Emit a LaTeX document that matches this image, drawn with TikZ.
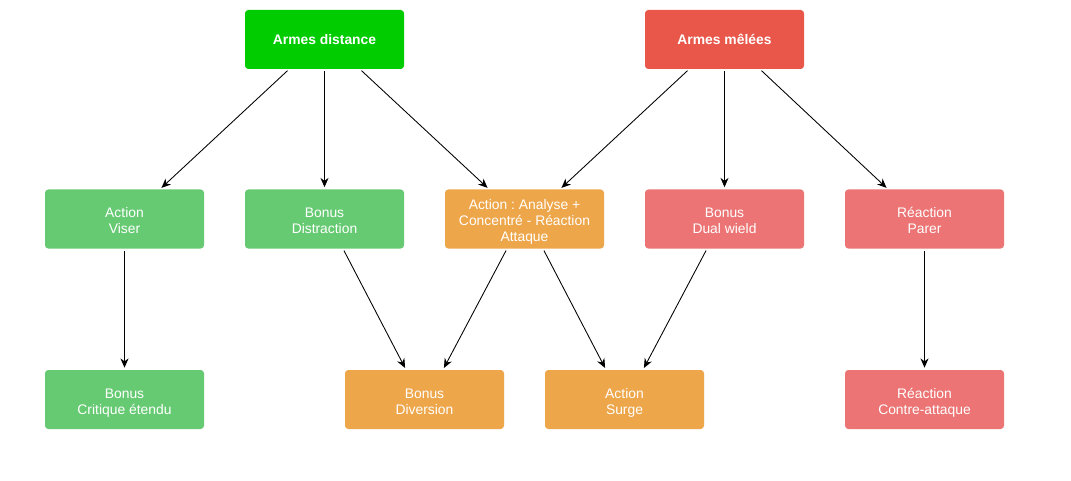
\documentclass[tikz,border=0pt]{standalone}
\usepackage{fontspec}
\setmainfont{Liberation Sans}
\usetikzlibrary{arrows.meta}
\definecolor{gtop}{HTML}{00CC00}
\definecolor{rtop}{HTML}{E8574A}
\definecolor{lgreen}{HTML}{66CA73}
\definecolor{lorange}{HTML}{EEA64A}
\definecolor{lred}{HTML}{EC7474}
\frenchspacing
\newcommand\topst{\rule[-3.6pt]{0pt}{17pt}}
\begin{document}
\begin{tikzpicture}[x=0.75pt,y=-0.75pt,
  box/.style={rectangle, rounded corners=2.5pt, minimum width=119.25pt, minimum height=44.25pt,
    inner sep=0pt, align=center, text=white, font=\fontsize{10.4}{12}\selectfont},
  topbox/.style={box, font=\fontsize{10.4}{12}\selectfont\bfseries},
  conn/.style={draw=black, line width=0.65pt, -{Stealth[length=7pt,width=6pt]}, shorten >=1.5pt, shorten <=1.5pt}]
\useasboundingbox[fill=white] (0,0) rectangle (1071,481);
\node[topbox, fill=gtop] (dist) at (324.5,39.5) {Armes distance};
\node[topbox, fill=rtop] (mel) at (724.5,39.5) {Armes mêlées};
\node[box, fill=lgreen] (viser) at (124.5,219) {\topst Action\\\strut Viser};
\node[box, fill=lgreen] (distr) at (324.5,219) {\topst Bonus\\\strut Distraction};
\node[box, fill=lorange] (anal) at (524.5,219) {\topst Action : Analyse +\\\strut Concentré - Réaction\\\strut Attaque};
\node[box, fill=lred] (dual) at (724.5,219) {\topst Bonus\\\strut Dual wield};
\node[box, fill=lred] (parer) at (924.5,219) {\topst Réaction\\\strut Parer};
\node[box, fill=lgreen] (crit) at (124.5,399.5) {\topst Bonus\\\strut Critique étendu};
\node[box, fill=lorange] (div) at (424.5,399.5) {\topst Bonus\\\strut Diversion};
\node[box, fill=lorange] (surge) at (624.5,399.5) {\topst Action\\\strut Surge};
\node[box, fill=lred] (contre) at (924.5,399.5) {\topst Réaction\\\strut Contre-attaque};
\draw[conn] (dist.south -| 289,0) -- (viser.north -| 160,0);
\draw[conn] (dist.south) -- (distr.north);
\draw[conn] (dist.south -| 360,0) -- (anal.north -| 489,0);
\draw[conn] (mel.south -| 689,0) -- (anal.north -| 560,0);
\draw[conn] (mel.south) -- (dual.north);
\draw[conn] (mel.south -| 760,0) -- (parer.north -| 888,0);
\draw[conn] (viser.south) -- (crit.north);
\draw[conn] (distr.south -| 343,0) -- (div.north -| 406,0);
\draw[conn] (anal.south -| 507,0) -- (div.north -| 443,0);
\draw[conn] (anal.south -| 543,0) -- (surge.north -| 606,0);
\draw[conn] (dual.south -| 707,0) -- (surge.north -| 643,0);
\draw[conn] (parer.south) -- (contre.north);
\end{tikzpicture}
\end{document}
